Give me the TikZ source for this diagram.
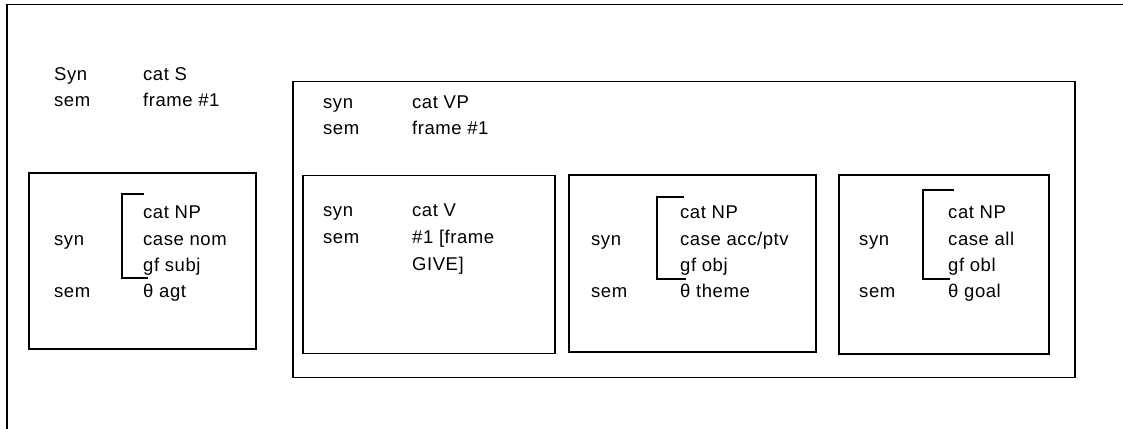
\documentclass[tikz,border=0pt]{standalone}
\usepackage{fontspec}
\setmainfont{Liberation Sans}
\begin{document}
\begin{tikzpicture}[x=1pt,y=-1pt,
  frameline/.style={line width=1.8pt,line cap=rect},
  boxline/.style={draw,line width=1.5pt,inner sep=0pt},
  brk/.style={line width=1.3pt},
  txt/.style={anchor=base west,inner sep=0pt,font=\fontsize{18.5}{21}\selectfont\addfontfeature{LetterSpace=3}}]
\useasboundingbox (0,0) rectangle (1123,428);
% outer frame (open at right and bottom)
\draw[frameline] (7,428) -- (7,4.5) -- (1123,4.5);
% boxes
\node[boxline,minimum width=227pt,minimum height=176pt] (np1) at (142.5,261) {};
\node[boxline,minimum width=782pt,minimum height=296pt] (vp) at (684,229.5) {};
\node[boxline,minimum width=252pt,minimum height=178pt] (v) at (429,264.5) {};
\node[boxline,minimum width=247pt,minimum height=177pt] (np2) at (692.5,263.5) {};
\node[boxline,minimum width=210pt,minimum height=179pt] (np3) at (944,264.5) {};
% S level
\node[txt] (s1) at (54,80) {Syn};
\node[txt] (s2) at (54,106) {sem};
\node[txt] (s3) at (143,80) {cat S};
\node[txt] (s4) at (143,106) {frame \#1};
% NP subj
\node[txt] (a1) at (54,245) {syn};
\node[txt] (a2) at (54,297) {sem};
\node[txt] (a3) at (143,218) {cat NP};
\node[txt] (a4) at (143,245) {case nom};
\node[txt] (a5) at (143,271) {gf subj};
\node[txt] (a6) at (143,297) {θ agt};
\draw[brk] (144,194) -- (122,194) -- (122,278) -- (148,278);
% VP
\node[txt] (b1) at (323,108) {syn};
\node[txt] (b2) at (323,134) {sem};
\node[txt] (b3) at (412,108) {cat VP};
\node[txt] (b4) at (412,134) {frame \#1};
% V
\node[txt] (c1) at (323,216) {syn};
\node[txt] (c2) at (323,243) {sem};
\node[txt] (c3) at (412,216) {cat V};
\node[txt] (c4) at (412,243) {\#1 [frame};
\node[txt] (c5) at (412,270) {GIVE]};
% NP obj
\node[txt] (d1) at (591,245) {syn};
\node[txt] (d2) at (591,297) {sem};
\node[txt] (d3) at (680,218) {cat NP};
\node[txt] (d4) at (680,245) {case acc/ptv};
\node[txt] (d5) at (680,271) {gf obj};
\node[txt] (d6) at (680,297) {θ theme};
\draw[brk] (684,197) -- (657,197) -- (657,279) -- (686,279);
% NP obl
\node[txt] (e1) at (859,245) {syn};
\node[txt] (e2) at (859,297) {sem};
\node[txt] (e3) at (948,218) {cat NP};
\node[txt] (e4) at (948,245) {case all};
\node[txt] (e5) at (948,271) {gf obl};
\node[txt] (e6) at (948,297) {θ goal};
\draw[brk] (954,190) -- (923,190) -- (923,279) -- (950,279);
\end{tikzpicture}
\end{document}
